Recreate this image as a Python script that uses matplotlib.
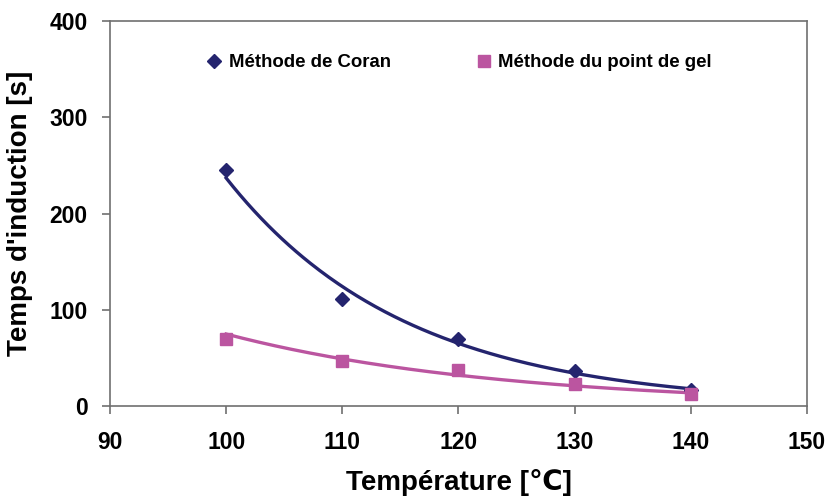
"""
Induction time vs temperature: Coran method and gel point method,
with exponential trendlines.
"""
import numpy as np
import matplotlib
matplotlib.use("Agg")
import matplotlib.pyplot as plt

plt.rcParams["font.family"] = ["Liberation Sans", "DejaVu Sans"]
plt.rcParams["font.weight"] = "bold"

temperature = [100, 110, 120, 130, 140]
coran = [245, 111, 70, 36, 17]
gel_point = [70, 47, 37, 23, 12]

x_ticks = [90, 100, 110, 120, 130, 140, 150]
y_ticks = [0, 100, 200, 300, 400]

NAVY = "#24246e"
PINK = "#bb55a0"
GREY = "#707070"


def exp_fit(x, y):
    # Excel style exponential trendline: fit ln(y) linearly
    b, ln_a = np.polyfit(x, np.log(y), 1)
    xs = np.linspace(min(x), max(x), 200)
    return xs, np.exp(ln_a) * np.exp(b * xs)


fig = plt.figure(figsize=(8.3, 4.97), dpi=100)
ax = fig.add_axes([0.1325, 0.1831, 0.8398, 0.7746])

for ys, color, marker, ms, label in [
    (coran, NAVY, "D", 7, "Méthode de Coran"),
    (gel_point, PINK, "s", 8, "Méthode du point de gel"),
]:
    xs, fit = exp_fit(temperature, ys)
    ax.plot(xs, fit, color=color, lw=2.4, zorder=3)
    ax.plot(temperature, ys, linestyle="none", marker=marker, ms=ms,
            color=color, label=label, zorder=4)

ax.set_xlim(90, 150)
ax.set_ylim(0, 400)
ax.set_xticks(x_ticks)
ax.set_yticks(y_ticks)
ax.tick_params(direction="out", length=6, width=1.2, color=GREY,
               labelsize=16.5, pad=10)
ax.tick_params(axis="x", pad=12)
for sp in ax.spines.values():
    sp.set_color(GREY)
    sp.set_linewidth(1.2)

ax.set_xlabel("Température [℃]", fontsize=20, fontweight="bold", labelpad=11)
ax.set_ylabel("Temps d'induction [s]", fontsize=20, fontweight="bold", labelpad=12)

ax.legend(loc="center left", bbox_to_anchor=(0.13, 0.891), ncol=2,
          frameon=False, fontsize=13.4, handlelength=0.6, handletextpad=0.5,
          columnspacing=4.7, borderaxespad=0)

fig.savefig("out.png", dpi=100)
plt.close(fig)
